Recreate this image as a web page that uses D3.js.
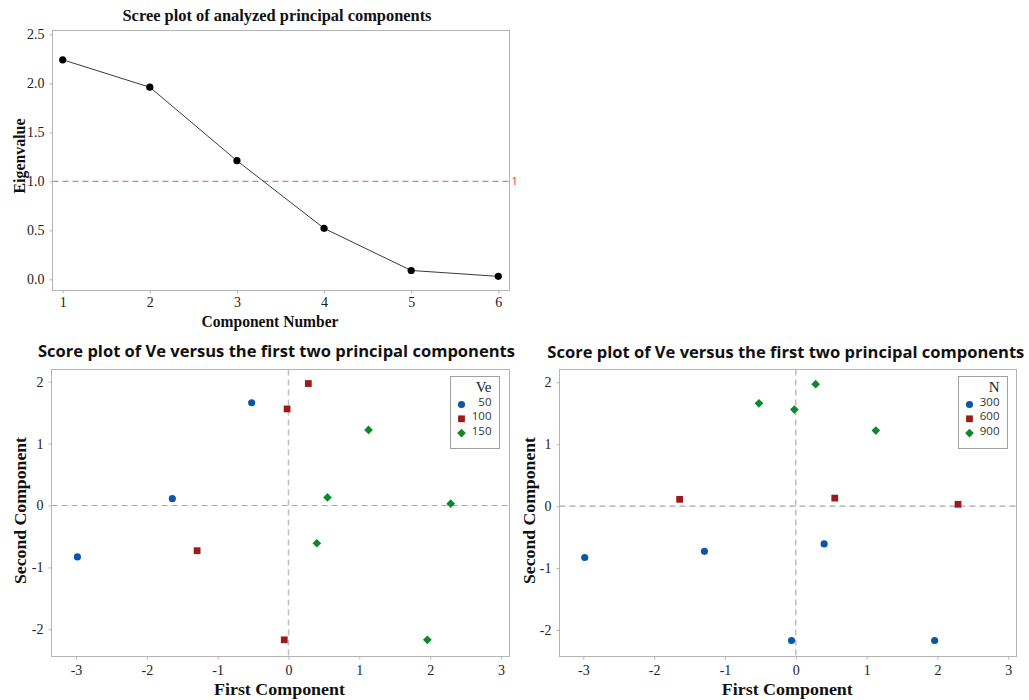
<!DOCTYPE html>
<html>
<head>
<meta charset="utf-8">
<script src="https://cdn.jsdelivr.net/npm/d3@7"></script>
<style>
  html, body { margin: 0; padding: 0; background: #fff; }
  svg { display: block; }
</style>
</head>
<body>
<svg id="chart" width="1029" height="700"></svg>
<script>
// ---------- DATA ----------
const componentNumbers = [1, 2, 3, 4, 5, 6];
const eigenvalues = [2.24, 1.96, 1.21, 0.52, 0.09, 0.03];
const screeYTicks = [0.0, 0.5, 1.0, 1.5, 2.0, 2.5];
const referenceLine = 1;

const pc1 = [-0.52, -1.64, -2.98, 0.28, -0.02, -1.29, -0.06, 1.13, 0.55, 2.29, 0.40, 1.96];
const pc2 = [1.66, 0.11, -0.83, 1.97, 1.56, -0.73, -2.17, 1.22, 0.13, 0.03, -0.61, -2.17];
const veGroup = [50, 50, 50, 100, 100, 100, 100, 150, 150, 150, 150, 150];
const nGroup = [900, 600, 300, 900, 900, 300, 300, 900, 600, 600, 300, 300];
const veLevels = [50, 100, 150];
const nLevels = [300, 600, 900];
const scoreXTicks = [-3, -2, -1, 0, 1, 2, 3];
const scoreYTicks = [-2, -1, 0, 1, 2];

const screeTitle = "Scree plot of analyzed principal components";
const scoreTitle = "Score plot of Ve versus the first two principal components";

// ---------- STYLE ----------
const colors = ["#0a57a8", "#9b1b1b", "#0b8a2c"];
const shapes = [d3.symbolCircle, d3.symbolSquare, d3.symbolSquare];
const shapeSizes = [40, 46, 38];
const shapeRot = [0, 0, 45];
const frameColor = "#b4b4b4";
const serif = "'Liberation Serif', 'Times New Roman', serif";
const sans = "'Open Sans', 'Noto Sans', sans-serif";

const svg = d3.select("#chart");

function frame(g, x0, y0, x1, y1) {
  g.append("rect").attr("x", x0).attr("y", y0).attr("width", x1 - x0).attr("height", y1 - y0)
    .attr("fill", "none").attr("stroke", frameColor).attr("stroke-width", 1);
}

function styleAxis(sel) {
  sel.select(".domain").remove();
  sel.selectAll(".tick line").attr("stroke", frameColor);
  sel.selectAll(".tick text").attr("fill", "#222").style("font-family", serif).style("font-size", "14px");
}

function marker(k) {
  return d3.symbol().type(shapes[k]).size(shapeSizes[k])();
}

// ---------- SCREE PLOT ----------
(function () {
  const L = 52.5, R = 509.5, T = 30.5, B = 290.5;
  const x = d3.scaleLinear().domain([1, 6]).range([62.7, 498.3]);
  const y = d3.scaleLinear().domain([0, 2.5]).range([279.3, 34.3]);
  const g = svg.append("g");

  // reference line
  g.append("line").attr("x1", L).attr("x2", R).attr("y1", y(referenceLine)).attr("y2", y(referenceLine))
    .attr("stroke", "#e87a7a").attr("stroke-width", 1.3).attr("stroke-dasharray", "6,4");
  g.append("text").attr("x", R + 2).attr("y", y(referenceLine) + 4).text(String(referenceLine))
    .attr("fill", "#d03838").style("font-family", sans).style("font-size", "11px");

  frame(g, L, T, R, B);

  g.append("g").attr("transform", `translate(0,${B})`)
    .call(d3.axisBottom(x).tickValues(componentNumbers).tickSize(3).tickPadding(4).tickFormat(d3.format("d")))
    .call(styleAxis);
  g.append("g").attr("transform", `translate(${L},0)`)
    .call(d3.axisLeft(y).tickValues(screeYTicks).tickSize(3).tickPadding(5).tickFormat(d3.format(".1f")))
    .call(styleAxis);

  const line = d3.line().x((d, i) => x(componentNumbers[i])).y(d => y(d));
  g.append("path").datum(eigenvalues).attr("d", line).attr("fill", "none")
    .attr("stroke", "#3a3a3a").attr("stroke-width", 1);
  g.selectAll("circle.pt").data(eigenvalues).join("circle")
    .attr("cx", (d, i) => x(componentNumbers[i])).attr("cy", d => y(d)).attr("r", 3.6).attr("fill", "#000");

  g.append("text").attr("x", 277).attr("y", 21).attr("text-anchor", "middle")
    .attr("textLength", 309).attr("lengthAdjust", "spacingAndGlyphs")
    .style("font-family", serif).style("font-weight", "bold").style("font-size", "16px").attr("fill", "#111")
    .text(screeTitle);
  g.append("text").attr("x", 270).attr("y", 327).attr("text-anchor", "middle")
    .attr("textLength", 137).attr("lengthAdjust", "spacingAndGlyphs")
    .style("font-family", serif).style("font-weight", "bold").style("font-size", "17px").attr("fill", "#111")
    .text("Component Number");
  g.append("text").attr("transform", "translate(25,156) rotate(-90)").attr("text-anchor", "middle")
    .attr("textLength", 75).attr("lengthAdjust", "spacingAndGlyphs")
    .style("font-family", serif).style("font-weight", "bold").style("font-size", "17px").attr("fill", "#111")
    .text("Eigenvalue");
})();

// ---------- SCORE PLOTS ----------
function scorePlot(opts) {
  const { L, R, T, B, xm3, xp3, y2, ym2, groups, levels, legendTitle, legendX0, legendX1, ylabX, titleCx, xlabCx, titleY } = opts;
  const x = d3.scaleLinear().domain([-3, 3]).range([xm3, xp3]);
  const y = d3.scaleLinear().domain([-2, 2]).range([ym2, y2]);
  const g = svg.append("g");

  g.append("line").attr("x1", L).attr("x2", R).attr("y1", y(0)).attr("y2", y(0))
    .attr("stroke", "#a8a8a8").attr("stroke-width", 1.2).attr("stroke-dasharray", "6,4");
  g.append("line").attr("x1", x(0)).attr("x2", x(0)).attr("y1", T).attr("y2", B)
    .attr("stroke", "#c0c0c0").attr("stroke-width", 1.5).attr("stroke-dasharray", "6,4");

  frame(g, L, T, R, B);

  g.append("g").attr("transform", `translate(0,${B})`)
    .call(d3.axisBottom(x).tickValues(scoreXTicks).tickSize(3).tickPadding(6).tickFormat(d => d < 0 ? "-" + Math.abs(d) : String(d)))
    .call(styleAxis);
  g.append("g").attr("transform", `translate(${L},0)`)
    .call(d3.axisLeft(y).tickValues(scoreYTicks).tickSize(3).tickPadding(5).tickFormat(d => d < 0 ? "-" + Math.abs(d) : String(d)))
    .call(styleAxis);

  const pts = pc1.map((v, i) => ({ x: v, y: pc2[i], k: levels.indexOf(groups[i]) }));
  g.selectAll("path.pt").data(pts).join("path")
    .attr("transform", d => `translate(${x(d.x)},${y(d.y)}) rotate(${shapeRot[d.k]})`)
    .attr("d", d => marker(d.k))
    .attr("fill", d => colors[d.k]);

  // legend
  const lT = 376.5, lB = 448.5;
  g.append("rect").attr("x", legendX0).attr("y", lT).attr("width", legendX1 - legendX0).attr("height", lB - lT)
    .attr("fill", "#fff").attr("stroke", "#a0a0a0").attr("stroke-width", 1);
  g.append("text").attr("x", legendX1 - 8).attr("y", 392).attr("text-anchor", "end")
    .style("font-family", serif).style("font-size", "15px").attr("fill", "#222").text(legendTitle);
  levels.forEach((lv, i) => {
    const cy = 404.5 + i * 14.3;
    g.append("path").attr("transform", `translate(${legendX0 + 11},${cy}) rotate(${shapeRot[i]})`)
      .attr("d", marker(i)).attr("fill", colors[i]);
    g.append("text").attr("x", legendX1 - 8).attr("y", cy + 1.5).attr("text-anchor", "end")
      .style("font-family", sans).style("font-size", "11.5px").attr("fill", "#333").text(String(lv));
  });

  g.append("text").attr("x", titleCx).attr("y", titleY).attr("text-anchor", "middle")
    .attr("textLength", 477).attr("lengthAdjust", "spacingAndGlyphs")
    .style("font-family", sans).style("font-weight", "bold").style("font-size", "16px").attr("fill", "#111")
    .text(scoreTitle);
  g.append("text").attr("x", xlabCx).attr("y", 695).attr("text-anchor", "middle")
    .attr("textLength", 131).attr("lengthAdjust", "spacingAndGlyphs")
    .style("font-family", serif).style("font-weight", "bold").style("font-size", "17px").attr("fill", "#111")
    .text("First Component");
  g.append("text").attr("transform", `translate(${ylabX},510.5) rotate(-90)`).attr("text-anchor", "middle")
    .attr("textLength", 147).attr("lengthAdjust", "spacingAndGlyphs")
    .style("font-family", serif).style("font-weight", "bold").style("font-size", "17px").attr("fill", "#111")
    .text("Second Component");
}

scorePlot({
  L: 51.5, R: 509.5, T: 369.5, B: 656.5,
  xm3: 76, xp3: 501, y2: 381.7, ym2: 629.3,
  groups: veGroup, levels: veLevels, legendTitle: "Ve",
  legendX0: 450.5, legendX1: 499.5, ylabX: 26, titleCx: 276.5, xlabCx: 279.5, titleY: 357
});
scorePlot({
  L: 559.5, R: 1016.5, T: 369.5, B: 656.5,
  xm3: 583.3, xp3: 1008.3, y2: 382.3, ym2: 630,
  groups: nGroup, levels: nLevels, legendTitle: "N",
  legendX0: 958.5, legendX1: 1007.5, ylabX: 535, titleCx: 785.8, xlabCx: 787.3, titleY: 358
});
</script>
</body>
</html>
